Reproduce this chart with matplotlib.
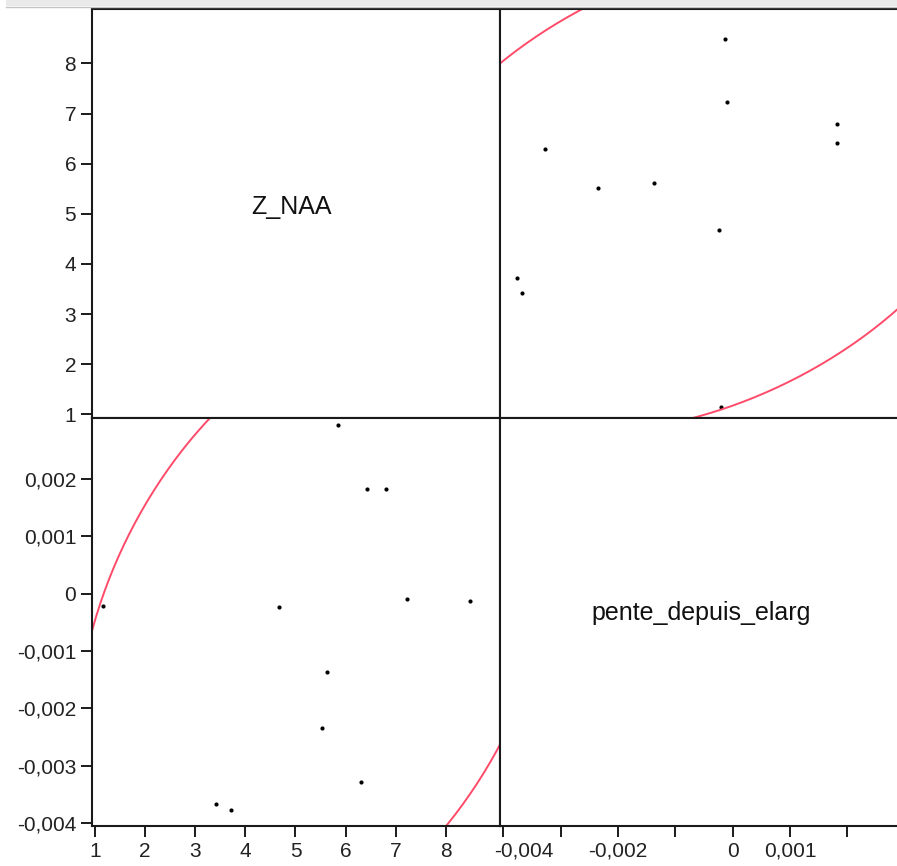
import numpy as np
import matplotlib.pyplot as plt
from matplotlib.patches import Rectangle
from matplotlib.transforms import ScaledTranslation

plt.rcParams['font.family'] = ['Liberation Sans', 'DejaVu Sans']

z_naa = [5.84, 6.42, 6.80, 7.23, 8.49, 4.67, 1.15, 5.62, 5.52, 6.30, 3.42, 3.72]
pente = [0.00294, 0.00182, 0.00182, -0.00010, -0.00013, -0.00023,
         -0.00021, -0.00137, -0.00235, -0.00328, -0.00367, -0.00377]

z_ticks = [1, 2, 3, 4, 5, 6, 7, 8]
z_labels = ['1', '2', '3', '4', '5', '6', '7', '8']
p_ticks = [-0.004, -0.003, -0.002, -0.001, 0, 0.001, 0.002]
p_labels = ['-0,004', '-0,003', '-0,002', '-0,001', '0', '0,001', '0,002']
p_labels_x = ['-0,004', '', '-0,002', '', '0', '0,001', '']

z_lim = (0.93, 9.08)
p_lim = (-0.00406, 0.00307)

# 95% density ellipse from the data
z = np.array(z_naa)
p = np.array(pente)
mean = np.array([z.mean(), p.mean()])
L = np.linalg.cholesky(np.cov(z, p))
t = np.linspace(0, 2 * np.pi, 500)
ell = mean[:, None] + np.sqrt(5.991) * (L @ np.vstack([np.cos(t), np.sin(t)]))

W, H = 897, 866
S = 408.5
fig = plt.figure(figsize=(W / 100, H / 100), dpi=100)

# window chrome strip at the top
fig.patches.append(Rectangle((6 / W, 1 - 6 / H), 1, 6 / H, transform=fig.transFigure,
                             facecolor='#e9e9e9', edgecolor='none'))
fig.lines.append(plt.Line2D([6 / W, 1], [1 - 6.5 / H, 1 - 6.5 / H], transform=fig.transFigure,
                            color='#c4c4c4', lw=1))


def box(x0, y0):
    return [x0 / W, 1 - (y0 + S) / H, S / W, S / H]


ax_tl = fig.add_axes(box(91.5, 9.3))
ax_tr = fig.add_axes(box(500, 9.3))
ax_bl = fig.add_axes(box(91.5, 417.8))
ax_br = fig.add_axes(box(500, 417.8))

red = '#ff4b6a'
for ax in (ax_tl, ax_tr, ax_bl, ax_br):
    for s in ax.spines.values():
        s.set_linewidth(1.5)
        s.set_color('#1a1a1a')
    ax.tick_params(direction='out', length=8, width=1.4, labelsize=15, pad=3,
                   colors='#1a1a1a', labelcolor='#222222')
    ax.set_xticks([])
    ax.set_yticks([])

ax_tl.set_xlim(z_lim)
ax_tl.set_ylim(z_lim)
ax_tl.set_yticks(z_ticks, z_labels)
ax_tl.text(0.49, 0.516, 'Z_NAA', transform=ax_tl.transAxes, ha='center', va='center',
           fontsize=18, color='#111111')

ax_tr.set_xlim(p_lim)
ax_tr.set_ylim(z_lim)
ax_tr.scatter(pente, z_naa, s=9, color='black', linewidths=0)
ax_tr.plot(ell[1], ell[0], color=red, lw=1.4)

ax_bl.set_xlim(z_lim)
ax_bl.set_ylim(p_lim)
ax_bl.set_yticks(p_ticks, p_labels)
ax_bl.set_xticks(z_ticks, z_labels)
ax_bl.scatter(z_naa, pente, s=9, color='black', linewidths=0)
ax_bl.plot(ell[0], ell[1], color=red, lw=1.4)

ax_br.set_xlim(p_lim)
ax_br.set_ylim(p_lim)
ax_br.set_xticks(p_ticks, p_labels_x)
first = ax_br.get_xticklabels()[0]
first.set_transform(first.get_transform() + ScaledTranslation(0.2, 0, fig.dpi_scale_trans))
ax_br.text(0.492, 0.522, 'pente_depuis_elarg', transform=ax_br.transAxes, ha='center',
           va='center', fontsize=18, color='#111111')

fig.savefig('out.png', dpi=100)
